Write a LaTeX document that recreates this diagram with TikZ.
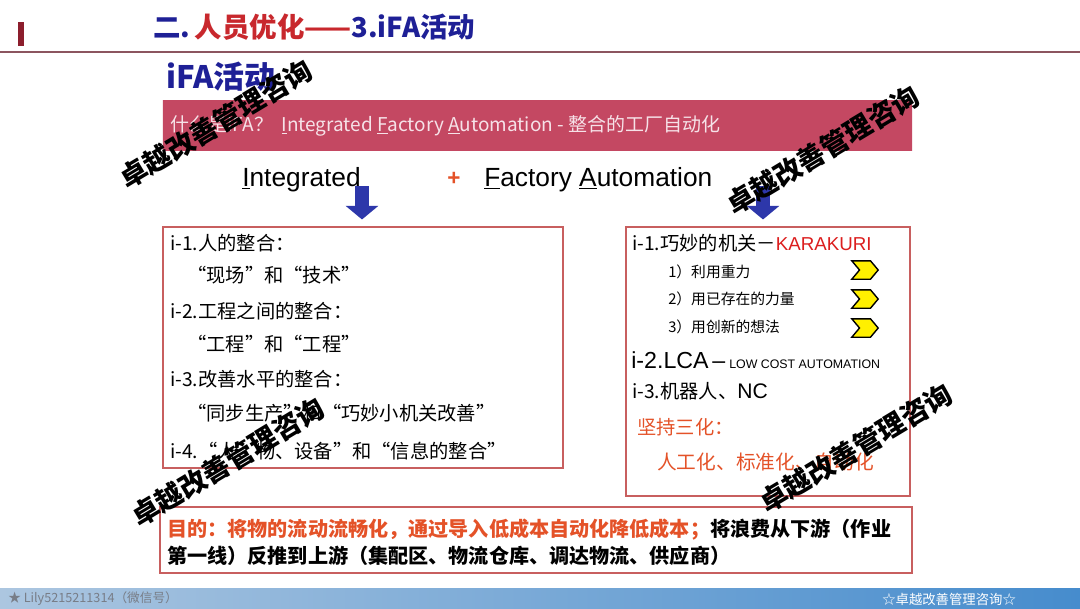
\documentclass[tikz,border=0pt]{standalone}
\usepackage{fontspec}
\setmainfont{Liberation Sans}
\newfontfamily\cjk{Noto Sans CJK SC}
\usepackage{xcolor}
\usepackage{tikz}
\usetikzlibrary{arrows.meta,positioning,shapes.symbols}

\definecolor{navy}{RGB}{30,32,150}
\definecolor{titlered}{RGB}{200,40,45}
\definecolor{rulered}{RGB}{140,85,95}
\definecolor{barred}{RGB}{140,30,45}
\definecolor{bannerdk}{RGB}{150,14,46}
\definecolor{bannerlt}{RGB}{196,72,98}
\definecolor{bannertxt}{RGB}{246,226,232}
\definecolor{boxred}{RGB}{200,95,95}
\definecolor{orangered}{RGB}{228,82,40}
\definecolor{karared}{RGB}{220,30,30}
\definecolor{arrblue}{RGB}{45,55,170}
\definecolor{chevyel}{RGB}{255,240,0}
\definecolor{footl}{RGB}{172,198,224}
\definecolor{footm}{RGB}{228,238,248}
\definecolor{footr}{RGB}{70,140,205}
\definecolor{footgray}{RGB}{120,125,135}

\begin{document}
\begin{tikzpicture}[x=0.025cm,y=-0.025cm,>=Latex]
  \tikzstyle{box}=[draw=boxred,line width=1pt,inner sep=0pt]
  \tikzstyle{txt}=[anchor=west,inner sep=0pt,font=\cjk\fontsize{13.7}{16}\selectfont]
  \tikzstyle{sub}=[anchor=west,inner sep=0pt,font=\cjk\fontsize{10.5}{12}\selectfont]
  \tikzstyle{chev}=[signal,signal from=west,signal to=east,signal pointer angle=100,
    draw=black,line width=1pt,fill=chevyel,minimum width=0.66cm,minimum height=0.46cm,inner sep=0pt]
  \tikzstyle{blockarr}=[arrblue,line width=0.36cm,-{Triangle[length=0.34cm,width=0.8cm]}]
  \tikzstyle{wm}=[rotate=31,inner sep=0pt,font=\cjk\bfseries\fontsize{19.5}{20}\selectfont]

  \useasboundingbox (0,0) rectangle (1080,608);
  \fill[white] (0,0) rectangle (1080,608);

  % header
  \fill[barred] (18,22) rectangle (24,46);
  \draw[rulered,line width=1.2pt] (0,52) -- (1080,52);
  \node[anchor=west,inner sep=0pt,font=\cjk\bfseries\fontsize{19.5}{22}\selectfont] (title) at (153,27)
    {\textcolor{navy}{二.}\,\textcolor{titlered}{人员优化——}\textcolor{navy}{3.iFA活动}};
  \node[anchor=west,inner sep=0pt,font=\cjk\bfseries\fontsize{22}{24}\selectfont,text=navy] (sub) at (166,77) {iFA活动};

  % banner
  \node[inner sep=0pt,minimum width=18.725cm,minimum height=1.25cm,
    top color=bannerlt,middle color=bannerdk,bottom color=bannerlt] (banner) at (537.5,125) {};
  \node[anchor=west,inner sep=0pt,text=bannertxt,font=\cjk\fontsize{13.5}{16}\selectfont] (what) at (170,126)
    {什么是IFA？\ \ \underline{I}ntegrated \underline{F}actory \underline{A}utomation - 整合的工厂自动化};

  % two headings
  \node[anchor=west,inner sep=0pt,font=\fontsize{18.7}{22}\selectfont] (integ) at (242,180) {\underline{I}ntegrated};
  \node[inner sep=0pt,text=orangered,font=\bfseries\fontsize{16}{18}\selectfont] (plus) at (454,179) {+};
  \node[anchor=west,inner sep=0pt,font=\fontsize{18.7}{22}\selectfont] (fa) at (484,180) {\underline{F}actory \underline{A}utomation};
  \coordinate (aI) at (362,186);
  \coordinate (aFA) at (763,186);

  % left box
  \node[box,minimum width=10cm,minimum height=6.025cm] (lbox) at (363,347.5) {};
  \draw[blockarr] (aI) -- ([yshift=0.17cm]lbox.north -| aI);
  \node[txt] (l1) at (170,243) {i-1.人的整合：};
  \node[txt] (l1a) at (187,275) {“现场”和“技术”};
  \node[txt] (l2) at (170,311) {i-2.工程之间的整合：};
  \node[txt] (l2a) at (187,344) {“工程”和“工程”};
  \node[txt] (l3) at (170,379) {i-3.改善水平的整合：};
  \node[txt] (l3a) at (187,413) {“同步生产”和“巧妙小机关改善”};
  \node[txt] (l4) at (170,451) {i-4.“人、物、设备”和“信息的整合”};

  % right box
  \node[box,minimum width=7.1cm,minimum height=6.725cm] (rbox) at (768,361.5) {};
  \draw[blockarr] (aFA) -- ([yshift=0.17cm]rbox.north -| aFA);
  \node[txt] (r1) at (632,243) {i-1.巧妙的机关－{\rmfamily\fontsize{13.3}{15}\selectfont\textcolor{karared}{KARAKURI}}};
  \node[sub] (r1a) at (668,272) {1）利用重力};
  \node[sub] (r1b) at (668,299) {2）用已存在的力量};
  \node[sub] (r1c) at (668,327) {3）用创新的想法};
  \node[chev] (c1) at (865,270) {};
  \node[chev] (c2) at (865,299) {};
  \node[chev] (c3) at (865,328) {};
  \node[anchor=west,inner sep=0pt] (r2) at (631,360)
    {\fontsize{16.5}{18}\selectfont i-2.LCA\,–\,{\fontsize{8.8}{10}\selectfont LOW COST AUTOMATION}};
  \node[txt] (r3) at (632,391) {i-3.机器人、{\rmfamily\fontsize{15}{17}\selectfont NC}};
  \node[txt,text=orangered] (r4) at (637,427) {坚持三化：};
  \node[txt,text=orangered,font=\cjk\fontsize{14}{16}\selectfont] (r4a) at (657,462) {人工化、标准化、自动化};

  % bottom box
  \node[box,minimum width=18.8cm,minimum height=1.65cm] (bbox) at (536,540) {};
  \node[anchor=west,inner sep=0pt,font=\cjk\bfseries\fontsize{14.3}{16}\selectfont] (aim1) at (167,530)
    {\textcolor{orangered}{目的：将物的流动流畅化，通过导入低成本自动化降低成本；}将浪费从下游（作业};
  \node[anchor=west,inner sep=0pt,font=\cjk\bfseries\fontsize{14.3}{16}\selectfont] (aim2) at (167,556)
    {第一线）反推到上游（集配区、物流仓库、调达物流、供应商）};

  % footer
  \shade[left color=footl,middle color=footm,right color=footr] (0,588) rectangle (1080,608);
  \node[anchor=west,inner sep=0pt,text=footgray,font=\cjk\fontsize{9}{10}\selectfont] (wx) at (8,599) {★ Lily5215211314（微信号）};
  \node[anchor=west,inner sep=0pt,text=white,font=\cjk\fontsize{9.5}{10}\selectfont] (brand) at (882,599) {☆卓越改善管理咨询☆};

  % watermarks
  \node[wm] (wm1) at (216,124) {卓越改善管理咨询};
  \node[wm] (wm2) at (823,150) {卓越改善管理咨询};
  \node[wm] (wm3) at (228,462) {卓越改善管理咨询};
  \node[wm] (wm4) at (856,448) {卓越改善管理咨询};
\end{tikzpicture}
\end{document}
